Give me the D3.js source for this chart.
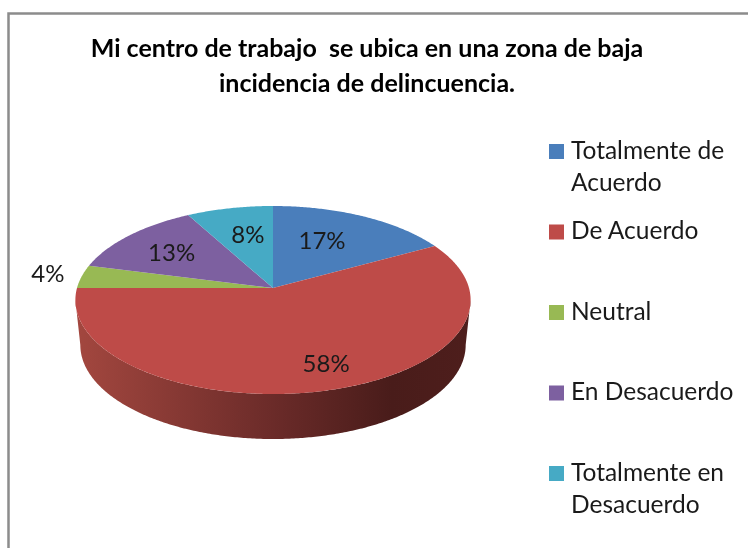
<!DOCTYPE html>
<html>
<head>
<meta charset="utf-8">
<script src="https://cdn.jsdelivr.net/npm/d3@7"></script>
<style>
  html, body { margin: 0; background: #fff; }
  svg { display: block; filter: blur(0.4px); }
  text { font-family: Lato, "Open Sans", sans-serif; fill: #1a1a1a; }
</style>
</head>
<body>
<div id="chart"></div>
<script>
const categories = ["Totalmente de Acuerdo", "De Acuerdo", "Neutral", "En Desacuerdo", "Totalmente en Desacuerdo"]
const legendLines = [["Totalmente de", "Acuerdo"], ["De Acuerdo"], ["Neutral"], ["En Desacuerdo"], ["Totalmente en", "Desacuerdo"]]
const values = [17, 58, 4, 13, 8]
const colors = ["#4a7ebb", "#be4b48", "#98b954", "#7d60a0", "#46aac5"]
const titleLines = ["Mi centro de trabajo  se ubica en una zona de baja", "incidencia de delincuencia."]

// label placement: radius along the slice middle, then a vertical nudge
const labelRadius = [0.52, 0.96, 1.18, 0.69, 0.55]
const labelNudge = [-9, -23, -2, 1, -8]

const width = 748
const height = 548

// perspective of the pie disc, fitted on the picture
const cx = 273
const cy = 288
const k = 196
const a = 55.7
const c = -0.1277
const depth = 45

function project(angle, r = 1){
  const u = Math.sin(angle) * r
  const v = -Math.cos(angle) * r
  const w = 1 + c * v
  return [cx + k * u / w, (cy + a * v) / w]
}

function lower(p){
  return [cx + (p[0] - cx) * 0.975, p[1] + depth]
}

function sample(start, end){
  const n = Math.max(2, Math.ceil((end - start) / 0.01))
  return d3.range(n + 1).map(i => start + (end - start) * i / n)
}

const svg = d3.select("#chart")
  .append("svg")
  .attr("width", width)
  .attr("height", height)

const grad = svg.append("defs")
  .append("linearGradient")
  .attr("id", "sideShade")
  .attr("gradientUnits", "userSpaceOnUse")
  .attr("x1", 76).attr("x2", 470).attr("y1", 0).attr("y2", 0)
grad.append("stop").attr("offset", "0").attr("stop-color", "#a3473f")
grad.append("stop").attr("offset", "0.5").attr("stop-color", "#6b2b29")
grad.append("stop").attr("offset", "0.8").attr("stop-color", "#491c1a")
grad.append("stop").attr("offset", "1").attr("stop-color", "#4e1e1c")

// frame
svg.append("path")
  .attr("d", `M8.5,${height} V13.5 H${width}`)
  .attr("fill", "none")
  .attr("stroke", "#8c8c8c")
  .attr("stroke-width", 2.5)

svg.append("g")
  .selectAll("text")
  .data(titleLines)
  .join("text")
  .attr("x", 367)
  .attr("y", (d, i) => 57 + i * 35)
  .attr("text-anchor", "middle")
  .style("white-space", "pre")
  .style("font-size", "25px")
  .style("font-weight", 700)
  .style("fill", "#000")
  .text(d => d)

const pie = d3.pie().sort(null).value(d => d)
const arcs = pie(values)
const line = d3.line()

// the wall only shows between the two side tangent points of the disc
const tangent = Math.acos(-(12 / (a + 38.3)))
const sideStart = Math.max(arcs[1].startAngle, tangent)
const sideEnd = Math.min(arcs[1].endAngle, 2 * Math.PI - tangent)
const rim = sample(sideStart, sideEnd).map(t => project(t))

svg.append("path")
  .attr("d", line(rim.concat(rim.slice().reverse().map(lower))) + "Z")
  .attr("fill", "url(#sideShade)")

svg.append("g")
  .selectAll("path")
  .data(arcs)
  .join("path")
  .attr("d", d => line([[cx, cy]].concat(sample(d.startAngle, d.endAngle).map(t => project(t)))) + "Z")
  .attr("fill", (d, i) => colors[i])

svg.append("g")
  .selectAll("text")
  .data(arcs)
  .join("text")
  .each(function(d, i){
    const p = project((d.startAngle + d.endAngle) / 2, labelRadius[i])
    d3.select(this).attr("x", p[0]).attr("y", p[1] + labelNudge[i])
  })
  .attr("text-anchor", "middle")
  .attr("dominant-baseline", "central")
  .style("font-size", "24px")
  .text(d => d.data + "%")

const legendY = d3.scalePoint().domain(categories).range([151, 473])

const legend = svg.append("g")
  .selectAll("g")
  .data(categories)
  .join("g")
  .attr("transform", d => `translate(549, ${legendY(d)})`)

legend.append("rect")
  .attr("y", -7)
  .attr("width", 15)
  .attr("height", 15)
  .attr("fill", (d, i) => colors[i])

legend.each(function(d, i){
  d3.select(this).selectAll("text")
    .data(legendLines[i])
    .join("text")
    .attr("x", 22)
    .attr("y", (t, j) => j * 32 - 2)
    .attr("dominant-baseline", "central")
    .style("font-size", "24.5px")
    .text(t => t)
})
</script>
</body>
</html>
